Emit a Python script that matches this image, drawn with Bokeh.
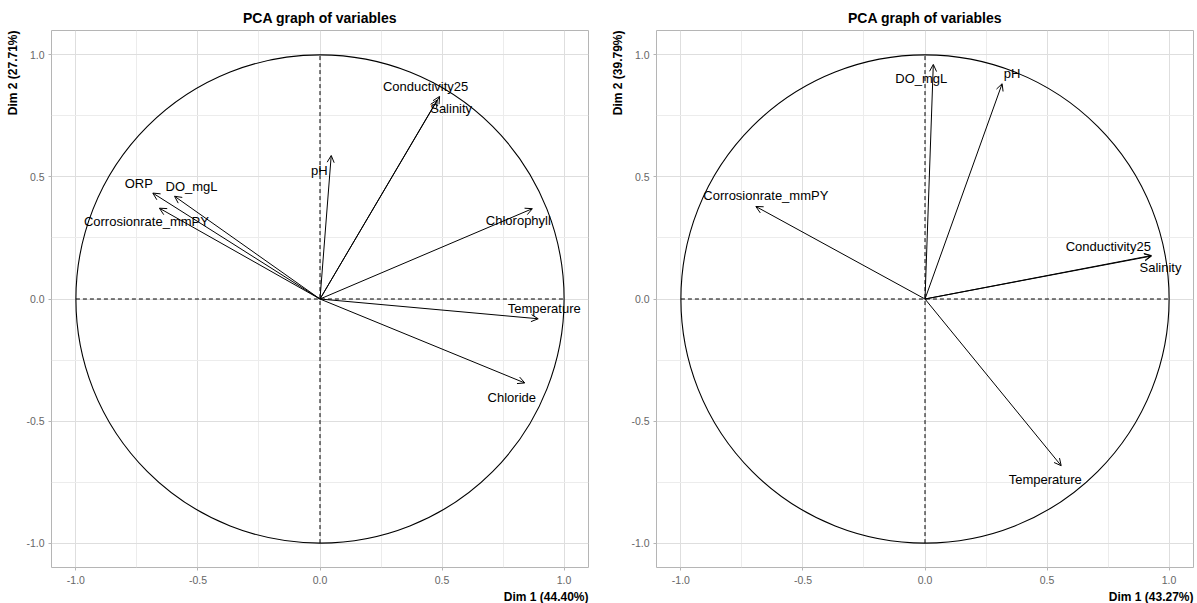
from bokeh.plotting import figure
from bokeh.models import ColumnDataSource, Arrow, OpenHead, FixedTicker, Title, Range1d
from bokeh.layouts import row
from bokeh.embed import file_html
from bokeh.resources import INLINE
from bokeh.core.properties import value

# ---------------- data ----------------
title_text = "PCA graph of variables"

left_vars = ["Conductivity25", "Salinity", "pH", "ORP", "DO_mgL",
             "Corrosionrate_mmPY", "Chlorophyll", "Temperature", "Chloride"]
left_dim1 = [0.49, 0.48, 0.046, -0.685, -0.596, -0.658, 0.870, 0.894, 0.839]
left_dim2 = [0.83, 0.815, 0.588, 0.434, 0.421, 0.372, 0.370, -0.081, -0.344]
left_pct = [44.40, 27.71]

right_vars = ["DO_mgL", "pH", "Corrosionrate_mmPY", "Conductivity25",
              "Salinity", "Temperature"]
right_dim1 = [0.034, 0.316, -0.693, 0.927, 0.928, 0.558]
right_dim2 = [0.961, 0.882, 0.379, 0.178, 0.176, -0.683]
right_pct = [43.27, 39.79]

tick_values = [-1.0, -0.5, 0.0, 0.5, 1.0]
tick_labels = ["-1.0", "-0.5", "0.0", "0.5", "1.0"]
minor_values = [-0.75, -0.25, 0.25, 0.75]

# label placement (pixel offsets from arrow tips; screen y downwards)
left_dx = [-14, 14, -12, -14, 17, -13, -14, 6, -13]
left_dy = [-10, 8, 15, -10, -10, 13, 12, -10, 15]
right_dx = [-12, 10, 10, -43, 9, -16]
right_dy = [14, -10, -11, -9, 11, 14]

FONT = "Liberation Sans"


def make_panel(names, d1, d2, pct, dx, dy, border_left, border_right):
    p = figure(frame_width=537, frame_height=537,
               x_range=Range1d(-1.1, 1.1), y_range=Range1d(-1.1, 1.1),
               output_backend="svg", toolbar_location=None,
               min_border_left=border_left, min_border_right=border_right,
               min_border_top=30, min_border_bottom=36,
               background_fill_color="white", border_fill_color="white",
               outline_line_color="#B5B5B5", outline_line_width=1)

    p.title.text = title_text
    p.title.align = "center"
    p.title.text_font = FONT
    p.title.text_font_size = "14px"
    p.title.text_font_style = "bold"
    p.title.text_color = "black"
    p.title.standoff = 10

    for ax in (p.xaxis[0], p.yaxis[0]):
        ax.ticker = FixedTicker(ticks=tick_values, minor_ticks=minor_values)
        ax.major_label_overrides = dict(zip(tick_values, tick_labels))
        ax.axis_line_color = None
        ax.major_tick_line_color = "#B5B5B5"
        ax.major_tick_in = 0
        ax.major_tick_out = 3
        ax.minor_tick_line_color = None
        ax.major_label_text_font = FONT
        ax.major_label_text_font_size = "10.5px"
        ax.major_label_text_color = "#666666"
    p.xaxis.major_label_standoff = 4
    p.yaxis.major_label_standoff = 3

    for g in (p.xgrid[0], p.ygrid[0]):
        g.grid_line_color = "#DEDEDE"
        g.grid_line_width = 1
        g.minor_grid_line_color = "#ECECEC"
        g.minor_grid_line_width = 1

    xt = Title(text=f"Dim 1 ({pct[0]:.2f}%)", align="right", text_font=FONT,
               text_font_size="12px", text_font_style="bold", text_color="black",
               standoff=2)
    p.add_layout(xt, "below")
    yt = Title(text=f"Dim 2 ({pct[1]:.2f}%)", align="right", text_font=FONT,
               text_font_size="12px", text_font_style="bold", text_color="black",
               standoff=7)
    p.add_layout(yt, "left")

    # correlation circle and dashed axes
    p.circle(x=0, y=0, radius=1, fill_color=None, line_color="black", line_width=1.1)
    p.segment(x0=[-1, 0], y0=[0, -1], x1=[1, 0], y1=[0, 1],
              line_color="black", line_width=1, line_dash="4 3")

    src = ColumnDataSource(dict(name=names, x=d1, y=d2, x0=[0] * len(names),
                                y0=[0] * len(names), dx=dx, dy=dy))
    p.add_layout(Arrow(end=OpenHead(size=7, line_width=1, line_color="black"),
                       x_start="x0", y_start="y0", x_end="x", y_end="y",
                       source=src, line_color="black", line_width=1))
    p.text(x="x", y="y", text="name", x_offset="dx", y_offset="dy", source=src,
           text_font=value(FONT), text_font_size="13px", text_align="center",
           text_baseline="middle", text_color="black")
    return p


p1 = make_panel(left_vars, left_dim1, left_dim2, left_pct, left_dx, left_dy, 49, 17)
p2 = make_panel(right_vars, right_dim1, right_dim2, right_pct, right_dx, right_dy, 50, 6)

layout = row(p1, p2)
open("out.html", "w").write(file_html(layout, INLINE))
